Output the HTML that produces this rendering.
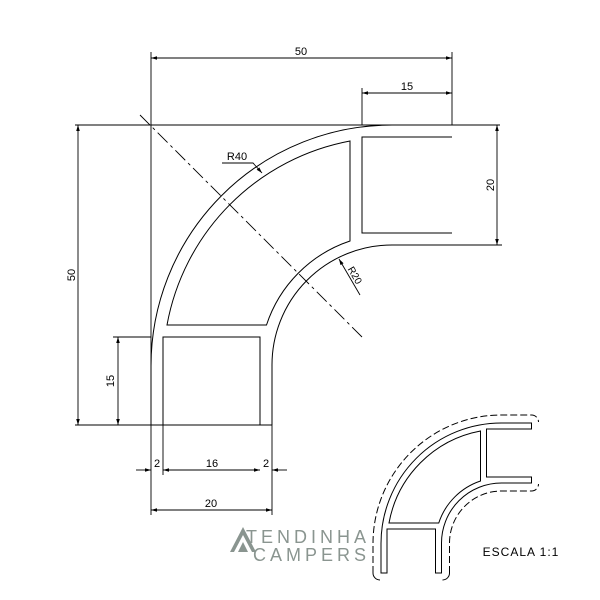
<!DOCTYPE html>
<html><head><style>body{margin:0;background:#fff}svg{display:block}</style></head><body>
<svg width="600" height="600" viewBox="0 0 600 600" xmlns="http://www.w3.org/2000/svg" font-family="Liberation Sans, sans-serif">
<defs>
<marker id="a" viewBox="0 0 10 6" refX="10" refY="3" markerWidth="8" markerHeight="4" orient="auto-start-reverse"><path d="M0,0L10,3L0,6z" fill="#000"/></marker>
</defs>
<g fill="none" stroke="#000" stroke-width="1">
<path d="M151,425V366A241,241 0 0 1 392,125H452"/>
<path d="M272,425V366A120,120 0 0 1 392,245H452"/>
<path d="M163,425V337H260V425"/>
<path d="M167,325H266.5A132,132 0 0 1 350,241V141A229,229 0 0 0 167,325Z"/>
<path d="M452,137H362V233H452"/>
</g>
<g fill="none" stroke="#000" stroke-width="0.9">
<path d="M75,125H500M75,425H272M151,52V425M452,52V125M362,88V125M452,245H502M113,337H151M151,425V515M272,425V515M163,425V475"/>
<path d="M140,115L362,337" stroke-dasharray="14,4,3,4"/>
<path d="M151,58H452" marker-start="url(#a)" marker-end="url(#a)"/>
<path d="M362,93H452" marker-start="url(#a)" marker-end="url(#a)"/>
<path d="M497,125V245" marker-start="url(#a)" marker-end="url(#a)"/>
<path d="M78,125V425" marker-start="url(#a)" marker-end="url(#a)"/>
<path d="M118,337V425" marker-start="url(#a)" marker-end="url(#a)"/>
<path d="M151,510H272" marker-start="url(#a)" marker-end="url(#a)"/>
<path d="M163,470H260" marker-start="url(#a)" marker-end="url(#a)"/>
<path d="M136,470H151" marker-end="url(#a)"/>
<path d="M287,470H272" marker-end="url(#a)"/>
<path d="M222,163H253L262,173" marker-end="url(#a)"/>
<path d="M360,295L339,259" marker-end="url(#a)"/>
</g>
<g font-size="11" fill="#000" text-anchor="middle">
<text x="301" y="55">50</text>
<text x="407" y="90">15</text>
<text x="157" y="467">2</text>
<text x="212" y="467">16</text>
<text x="266" y="467">2</text>
<text x="211" y="507">20</text>
<text x="237" y="160">R40</text>
<text transform="translate(494,185) rotate(-90)">20</text>
<text transform="translate(75,275) rotate(-90)">50</text>
<text transform="translate(114,381) rotate(-90)">15</text>
<text transform="translate(352,277) rotate(60)" font-size="10">R20</text>
<text x="521" y="556" font-size="12" letter-spacing="1">ESCALA 1:1</text>
</g>
<g transform="translate(305.5,360.5) scale(0.5)" fill="none" stroke="#000" stroke-width="2">
<path d="M151,425V366A241,241 0 0 1 392,125H452V137H362V233H452V245H392A120,120 0 0 0 272,366V425H260V337H163V425Z"/>
<path d="M167,325H266.5A132,132 0 0 1 350,241V141A229,229 0 0 0 167,325Z"/>
<path d="M135,425V366A257,257 0 0 1 392,109H452A14,14 0 0 1 466,123" stroke-dasharray="14,6"/>
<path d="M288,425V366A104,104 0 0 1 392,261H452A14,14 0 0 0 466,247" stroke-dasharray="14,6"/>
<path d="M135,425A14,14 0 0 0 149,439M274,439A14,14 0 0 0 288,425"/>
</g>
<g fill="#8a9590">
<path d="M230,552L243,527L256,552H252L243,535L234,552Z"/>
<path d="M238,552L243,542L248,552Z"/>
<text x="246" y="543" font-size="18" letter-spacing="4">TENDINHA</text>
<text x="253" y="561" font-size="18" letter-spacing="4">CAMPERS</text>
</g>
</svg>
</body></html>
